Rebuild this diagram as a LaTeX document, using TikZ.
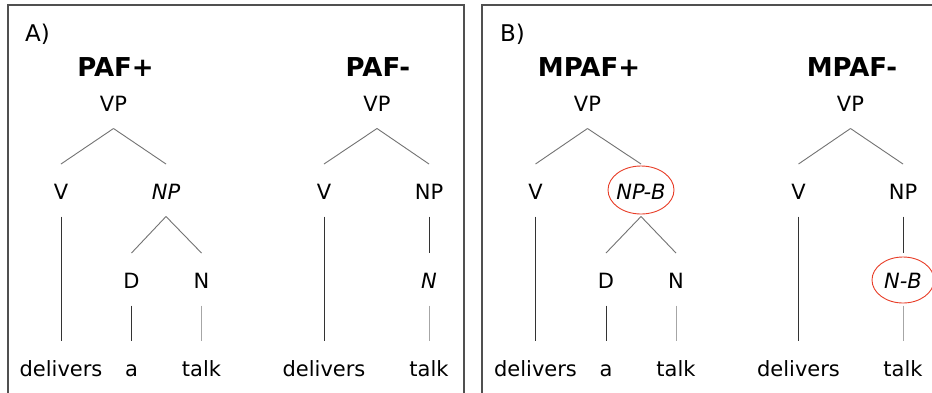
\documentclass[tikz,border=0pt]{standalone}
\usepackage{fontspec}
\setmainfont{DejaVu Sans}
\usetikzlibrary{calc}
\definecolor{ellred}{RGB}{232,62,40}
\definecolor{framegray}{RGB}{80,80,80}
\tikzset{
  lbl/.style={anchor=base, inner sep=0pt, font=\fontsize{21}{24}\selectfont},
  ilbl/.style={lbl, font=\fontsize{21}{24}\selectfont\itshape},
  plbl/.style={anchor=base west, inner sep=0pt, font=\fontsize{23}{26}\selectfont},
  ttl/.style={anchor=base, inner sep=0pt, font=\fontsize{26}{30}\selectfont\bfseries},
  br/.style={draw=black!55, line width=0.9pt},
  vdark/.style={draw=black!80, line width=0.9pt},
  vlight/.style={draw=black!35, line width=0.9pt},
  ring/.style={draw=ellred, line width=0.9pt},
  panel/.style={draw=framegray, line width=1.2pt},
}
\newcommand\tedge[3]{\draw[#1] ($(#2.base)+(0,17.5)$) -- ($(#3.base)+(0,-35)$);}
\begin{document}
\begin{tikzpicture}[x=1pt,y=-1pt]
\clip (0,0) rectangle (932,392);
\fill[white] (0,0) rectangle (932,392);
% panels
\draw[panel] (8,420) -- (8,5) -- (464,5) -- (464,420);
\draw[panel] (482,420) -- (482,5) -- (960,5) -- (960,420);
\node[plbl] (la) at (25,41) {A)};
\node[plbl] (lb) at (500,41) {B)};
% titles
\node[ttl] (t1) at (115.5,76) {PAF+};
\node[ttl] (t2) at (378,76) {PAF-};
\node[ttl] (t3) at (589,76) {MPAF+};
\node[ttl] (t4) at (852,76) {MPAF-};
% ---- tree A1
\node[lbl] (a1vp) at (113.5,111) {VP};
\node[lbl] (a1v) at (61,199) {V};
\node[ilbl] (a1np) at (166,199) {NP};
\node[lbl] (a1d) at (131.5,288) {D};
\node[lbl] (a1n) at (201.5,288) {N};
\node[lbl] (a1w1) at (61,376) {delivers};
\node[lbl] (a1w2) at (131.5,376) {a};
\node[lbl] (a1w3) at (201.5,376) {talk};
\tedge{br}{a1vp}{a1v}
\tedge{br}{a1vp}{a1np}
\tedge{vdark}{a1v}{a1w1}
\tedge{br}{a1np}{a1d}
\tedge{br}{a1np}{a1n}
\tedge{vdark}{a1d}{a1w2}
\tedge{vlight}{a1n}{a1w3}
% ---- tree A2
\node[lbl] (a2vp) at (377,111) {VP};
\node[lbl] (a2v) at (324,199) {V};
\node[lbl] (a2np) at (429,199) {NP};
\node[ilbl] (a2n) at (429,288) {N};
\node[lbl] (a2w1) at (324,376) {delivers};
\node[lbl] (a2w3) at (429,376) {talk};
\tedge{br}{a2vp}{a2v}
\tedge{br}{a2vp}{a2np}
\tedge{vdark}{a2v}{a2w1}
\tedge{vdark}{a2np}{a2n}
\tedge{vlight}{a2n}{a2w3}
% ---- tree B1
\node[lbl] (b1vp) at (587.5,111) {VP};
\node[lbl] (b1v) at (535.5,199) {V};
\node[ilbl] (b1np) at (641,199) {NP-B};
\node[lbl] (b1d) at (606,288) {D};
\node[lbl] (b1n) at (676,288) {N};
\node[lbl] (b1w1) at (535.5,376) {delivers};
\node[lbl] (b1w2) at (606,376) {a};
\node[lbl] (b1w3) at (676,376) {talk};
\draw[ring] ($(b1np.base)+(0,-9)$) ellipse [x radius=33pt, y radius=24pt];
\tedge{br}{b1vp}{b1v}
\tedge{br}{b1vp}{b1np}
\tedge{vdark}{b1v}{b1w1}
\tedge{br}{b1np}{b1d}
\tedge{br}{b1np}{b1n}
\tedge{vdark}{b1d}{b1w2}
\tedge{vlight}{b1n}{b1w3}
% ---- tree B2
\node[lbl] (b2vp) at (850.5,111) {VP};
\node[lbl] (b2v) at (798.5,199) {V};
\node[lbl] (b2np) at (903,199) {NP};
\node[ilbl] (b2n) at (903,288) {N-B};
\node[lbl] (b2w1) at (798.5,376) {delivers};
\node[lbl] (b2w3) at (903,376) {talk};
\draw[ring] ($(b2n.base)+(0,-8)$) ellipse [x radius=31pt, y radius=23pt];
\tedge{br}{b2vp}{b2v}
\tedge{br}{b2vp}{b2np}
\tedge{vdark}{b2v}{b2w1}
\tedge{vdark}{b2np}{b2n}
\tedge{vlight}{b2n}{b2w3}
\end{tikzpicture}
\end{document}
